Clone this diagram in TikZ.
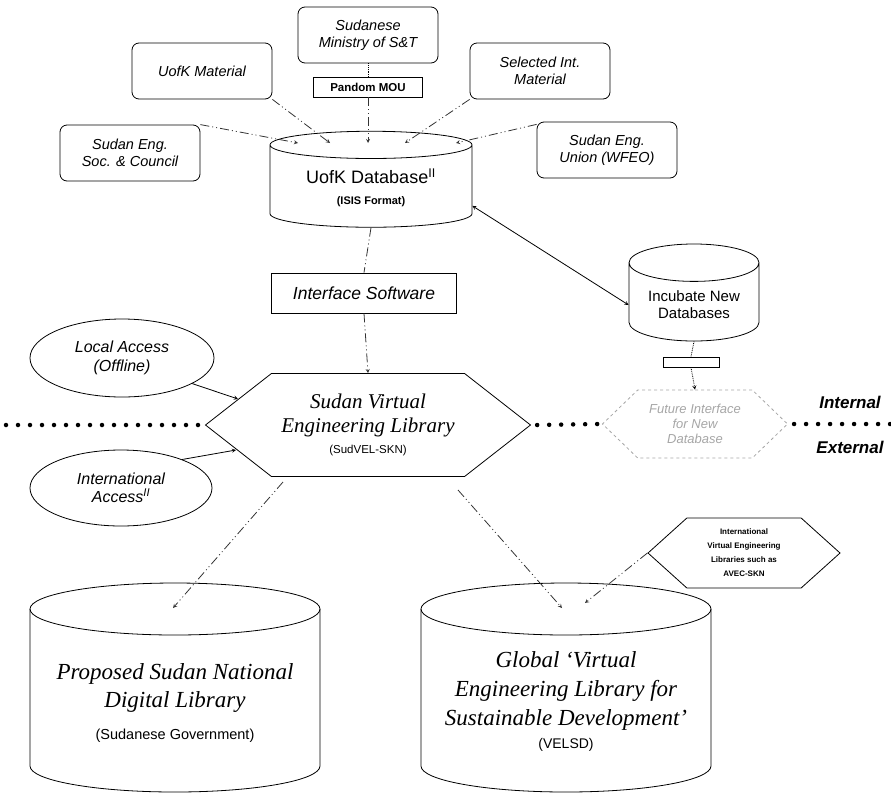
\documentclass[tikz,border=0pt]{standalone}
\usepackage{fontspec}
\setmainfont{Liberation Serif}
\setsansfont{Liberation Sans}
\usetikzlibrary{calc,arrows,shapes.geometric,shapes.symbols}

\newcommand{\fsz}[1]{\fontsize{#1}{1.15\dimexpr#1pt\relax}\selectfont}

\tikzset{
  srcbox/.style={draw, thick, rounded corners=7pt, align=center,
    minimum width=140pt, minimum height=56pt,
    font=\sffamily\itshape\fsz{14.5}},
  dbase/.style={draw, thick, cylinder, shape border rotate=90, align=center},
  hexa/.style={draw, thick, signal, signal to=west and east, align=center, inner sep=0pt},
  dashdot/.style={line width=0.8pt, black!80,
    dash pattern=on 9pt off 3pt on 1pt off 3pt on 1pt off 3pt},
  flow/.style={dashdot, -stealth},
  dotline/.style={line width=4.5pt, line cap=round, dash pattern=on 0pt off 12pt},
}

\begin{document}
\begin{tikzpicture}[x=1pt,y=-1pt]
\useasboundingbox (0,0) rectangle (891,793);

% sources feeding the database
\node[srcbox] (ministry) at (368,35) {Sudanese\\Ministry of S\&T};
\node[draw, thick, minimum width=109pt, minimum height=20pt, inner sep=0pt,
  font=\sffamily\bfseries\fsz{11.5}] (mou) at (368,87) {Pandom MOU};
\node[srcbox] (uofkmat) at (202,71) {UofK Material};
\node[srcbox] (selected) at (540,71) {Selected Int.\\Material};
\node[srcbox] (engsoc) at (130,153) {Sudan Eng.\\Soc. \& Council};
\node[srcbox] (engunion) at (607,150) {Sudan Eng.\\Union (WFEO)};

% databases
\node[dbase, minimum width=202pt, minimum height=96pt, aspect=0.2,
  font=\sffamily\fsz{18}] (db) at (371,188)
  {UofK Database\textsuperscript{II}\\{\fsz{11}\bfseries(ISIS Format)}};
\node[dbase, minimum width=130pt, minimum height=97pt, aspect=0.38,
  font=\sffamily\fsz{15}] (incub) at (694,305) {Incubate New\\Databases};
\node[draw, thick, minimum width=56pt, minimum height=10pt, inner sep=0pt] (stub) at (691,362) {};

\node[draw, thick, minimum width=185pt, minimum height=40pt,
  font=\sffamily\itshape\fsz{17.5}] (iface) at (364,293) {Interface Software};

% the library and its access
\node[hexa, minimum width=325pt, minimum height=103pt, signal pointer angle=76,
  font=\itshape\fsz{21}] (svel) at (368,425)
  {Sudan Virtual\\Engineering Library\\[-3pt]{\sffamily\upshape\fsz{11.5}(SudVEL-SKN)}};
\node[draw, thick, ellipse, minimum width=184pt, minimum height=78pt, align=center,
  font=\sffamily\itshape\fsz{16}] (local) at (122,358) {Local Access\\(Offline)};
\node[draw, thick, ellipse, minimum width=182pt, minimum height=76pt, align=center,
  font=\sffamily\itshape\fsz{16}] (intl) at (121,488) {International\\Access\textsuperscript{II}};

\node[hexa, draw=gray!70, dashed, minimum width=185pt, minimum height=68pt,
  signal pointer angle=88, text=gray!70, font=\sffamily\itshape\fsz{13}] (future) at (695,424)
  {Future Interface\\for New\\Database};

\node[font=\sffamily\bfseries\itshape\fsz{17}] (internal) at (850,402) {Internal};
\node[font=\sffamily\bfseries\itshape\fsz{17}] (external) at (850,447) {External};

\node[hexa, minimum width=192pt, minimum height=70pt, signal pointer angle=84,
  font=\sffamily\bfseries\fontsize{8}{14}\selectfont] (others) at (744,553)
  {International\\Virtual Engineering\\Libraries such as\\AVEC-SKN};

% the two libraries at the bottom, drawn as big drums
\foreach \cx in {175,566}{
  \draw[thick] (\cx-145,609) -- (\cx-145,766)
    arc[start angle=180, end angle=0, x radius=145, y radius=26] -- (\cx+145,609);
  \draw[thick] (\cx,609) ellipse[x radius=145, y radius=26];
}
\node[align=center, font=\itshape\fontsize{23}{28}\selectfont] (national) at (175,703)
  {Proposed Sudan National\\Digital Library\\[4pt]{\sffamily\upshape\fsz{14.5}(Sudanese Government)}};
\node[align=center, font=\itshape\fontsize{23}{29}\selectfont] (global) at (566,701)
  {Global `Virtual\\Engineering Library for\\Sustainable Development'\\[-6pt]{\sffamily\upshape\fsz{14}(VELSD)}};

% internal / external border
\coordinate (lft) at (6,425);
\coordinate (rgt) at (891,424);
\draw[dotline] (lft) -- ($(svel.west)+(-6,0)$);
\draw[dotline] ($(svel.east)+(6,0)$) -- ($(future.west)+(-4,0)$);
\draw[dotline] ($(future.east)+(6,0)$) -- (rgt);

% flows into the database
\coordinate (in1) at (298,143);
\coordinate (in2) at (330,143);
\coordinate (in3) at (368,143);
\coordinate (in4) at (405,143);
\coordinate (in5) at (456,143);
\draw[flow] (engsoc.north east) -- (in1);
\draw[flow] (uofkmat.south east) -- (in2);
\draw[flow] (mou.south) -- (in3);
\draw[flow] (selected.south west) -- (in4);
\draw[flow] (engunion.160) -- (in5);
\draw[densely dotted, thick] (ministry.south) -- (mou.north);

\draw[dashdot] (db.south) -- (iface.north);
\draw[flow] (iface.south) -- (svel.north);
\draw[thick, stealth-stealth] (db.-10) -- (incub.west);

\draw[densely dotted, thick] (incub.south) -- (stub.north);
\draw[densely dotted, thick, -stealth] (stub.south) -- (future.north);

\coordinate (acc1) at (238,399);
\coordinate (acc2) at (236,450);
\draw[thick, -stealth] (local.-20) -- (acc1);
\draw[thick, -stealth] (intl.25) -- (acc2);

% flows out to the libraries
\coordinate (out1) at (283,482);
\coordinate (out2) at (458,490);
\coordinate (in6) at (173,608);
\coordinate (in7) at (562,608);
\coordinate (in8) at (585,603);
\draw[flow] (out1) -- (in6);
\draw[flow] (out2) -- (in7);
\draw[flow] (others.west) -- (in8);
\end{tikzpicture}
\end{document}
